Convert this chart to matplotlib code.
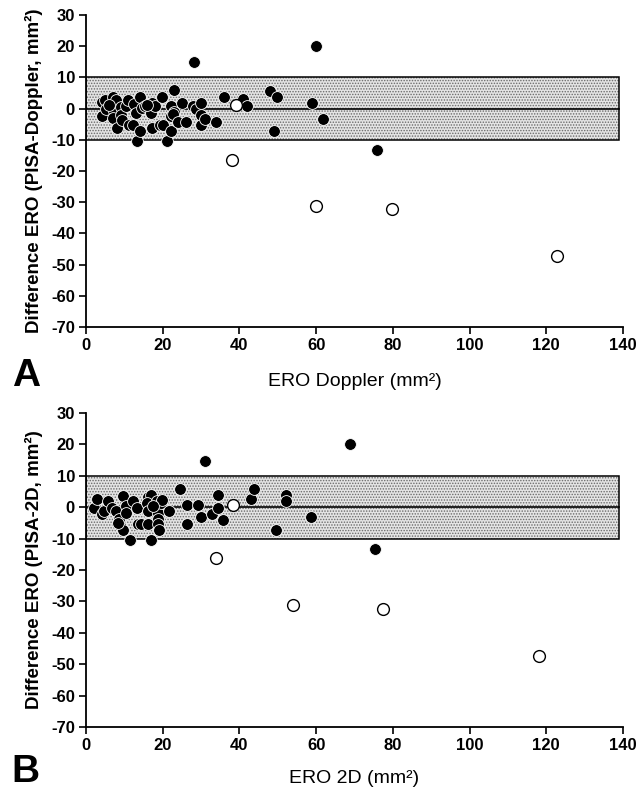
import matplotlib
matplotlib.use("Agg")
import matplotlib.pyplot as plt
from matplotlib.patches import Rectangle

plt.rcParams['font.family'] = ['Liberation Sans', 'DejaVu Sans']
plt.rcParams['hatch.linewidth'] = 0.7
plt.rcParams['axes.unicode_minus'] = False

# ---- Panel A data: ERO Doppler vs difference (PISA - Doppler) ----
a_fill_x = [4.1, 4.1, 5.0, 5.3, 7.1, 7.2, 7.1, 7.9, 8.1, 9.1, 9.1, 9.3, 10.3, 11.0,
            11.2, 12.2, 12.6, 13.1, 13.2, 14.1, 14.1, 14.6, 15.4, 17.0, 17.2, 17.2,
            18.1, 19.4, 19.9, 20.1, 21.0, 22.1, 22.1, 22.1, 23.0, 22.9, 22.6, 24.0,
            25.0, 26.0, 28.1, 27.8, 28.7, 30.0, 30.0, 30.0, 31.1, 34.0, 36.0, 41.0,
            41.9, 47.9, 49.9, 49.0, 58.8, 60.0, 61.8, 75.9, 6.0, 16.0]
a_fill_y = [2.1, -2.3, 2.9, 0.0, 3.7, -0.7, -2.9, 2.7, -6.2, 0.5, -2.1, -3.7, 0.7, 2.7,
            -5.3, -5.3, 1.6, -1.3, -10.3, 3.7, -7.2, 0.3, 0.7, -1.4, 1.8, -6.2,
            0.7, -5.3, 3.7, -5.3, -10.3, 0.7, -2.4, -7.2, 5.9, -1.1, -1.8, -4.3,
            1.8, -4.3, 14.9, 0.7, 0.0, 1.8, -2.1, -5.3, -3.2, -4.3, 3.7, 3.0,
            0.7, 5.6, 3.7, -7.2, 1.8, 20.0, -3.2, -13.3, 1.0, 1.2]
a_open_x = [39.1, 38.0, 59.9, 79.8, 122.7]
a_open_y = [1.1, -16.4, -31.3, -32.2, -47.1]

# ---- Panel B data: ERO 2D vs difference (PISA - 2D) ----
b_fill_x = [2.2, 2.9, 4.1, 4.8, 5.8, 6.7, 7.8, 8.7, 9.0, 9.6, 9.6, 10.3, 10.4, 11.6,
            12.3, 13.2, 13.5, 14.3, 16.1, 16.9, 15.9, 16.1, 16.1, 17.0, 18.0, 18.5,
            18.9, 18.9, 18.9, 19.1, 19.6, 19.8, 21.7, 24.5, 26.3, 26.3, 29.1, 30.0,
            31.0, 32.8, 34.5, 34.5, 35.8, 43.0, 43.9, 49.6, 52.2, 52.2, 58.7, 68.8,
            75.4, 8.3, 17.5]
b_fill_y = [-0.2, 2.7, -2.3, -1.3, 1.9, -0.2, -1.3, -3.9, -6.3, 3.5, -7.4, 0.3, -1.8, -10.4,
            1.9, -0.2, -5.5, -5.5, 3.2, 4.0, 1.4, -1.3, -5.5, -10.4, 0.3, 1.9,
            -1.8, -3.9, -5.5, -7.3, 1.4, 2.2, -1.3, 5.9, 0.8, -5.3, 0.8, -3.2,
            14.8, -2.3, 3.8, -0.2, -4.2, 2.7, 5.9, -7.3, 3.8, 1.9, -3.2, 20.1,
            -13.2, -5.0, 0.5]
b_open_x = [38.3, 33.8, 54.0, 77.4, 118.2]
b_open_y = [0.6, -16.3, -31.3, -32.3, -47.3]

band_low, band_high, band_xmax = -10, 10, 139
y_ticks = [30, 20, 10, 0, -10, -20, -30, -40, -50, -60, -70]
x_ticks = [0, 20, 40, 60, 80, 100, 120, 140]

W, H = 642, 793
fig = plt.figure(figsize=(W / 100, H / 100), dpi=100)


def panel(rect, fx, fy, ox, oy, xlabel, ylabel, letter, letter_y, xpad):
    ax = fig.add_axes(rect)
    # stippled agreement band
    ax.add_patch(Rectangle((0, band_low), band_xmax, band_high - band_low,
                           facecolor='#e4e4e4', edgecolor='#6a6a6a', hatch='......',
                           linewidth=0, zorder=1))
    ax.add_patch(Rectangle((0, band_low), band_xmax, band_high - band_low,
                           facecolor='none', edgecolor='black', linewidth=1.1, zorder=2))
    ax.plot([0, band_xmax], [0, 0], color='black', linewidth=1.2, zorder=2)
    ax.scatter(fx, fy, s=72, facecolor='black', edgecolor='white', linewidth=0.6, zorder=3)
    ax.scatter(ox, oy, s=72, facecolor='white', edgecolor='black', linewidth=1.0, zorder=4)
    ax.set_xlim(0, 140)
    ax.set_ylim(-70, 30)
    ax.set_xticks(x_ticks)
    ax.set_yticks(y_ticks)
    ax.tick_params(direction='out', length=5, width=1.2, labelsize=12, pad=3)
    for lab in ax.get_xticklabels() + ax.get_yticklabels():
        lab.set_fontweight('bold')
    for s in ['top', 'right']:
        ax.spines[s].set_visible(False)
    for s in ['left', 'bottom']:
        ax.spines[s].set_linewidth(1.3)
    ax.set_ylabel(ylabel, fontsize=13.5, fontweight='bold', labelpad=6)
    ax.set_xlabel(xlabel, fontsize=14, labelpad=xpad)
    fig.text(0.018, letter_y, letter, fontsize=28, fontweight='bold', ha='left', va='bottom')
    return ax


left = 86 / W
width = (623 - 86) / W
axA = panel([left, 1 - 327 / H, width, (327 - 15) / H],
            a_fill_x, a_fill_y, a_open_x, a_open_y,
            'ERO Doppler (mm²)', 'Difference ERO (PISA-Doppler, mm²)', 'A',
            1 - 394 / H, 14)
axB = panel([left, 1 - 727 / H, width, (727 - 413) / H],
            b_fill_x, b_fill_y, b_open_x, b_open_y,
            'ERO 2D (mm²)', 'Difference ERO (PISA-2D, mm²)', 'B',
            1 - 790 / H, 12)

fig.savefig('out.png', dpi=100)
